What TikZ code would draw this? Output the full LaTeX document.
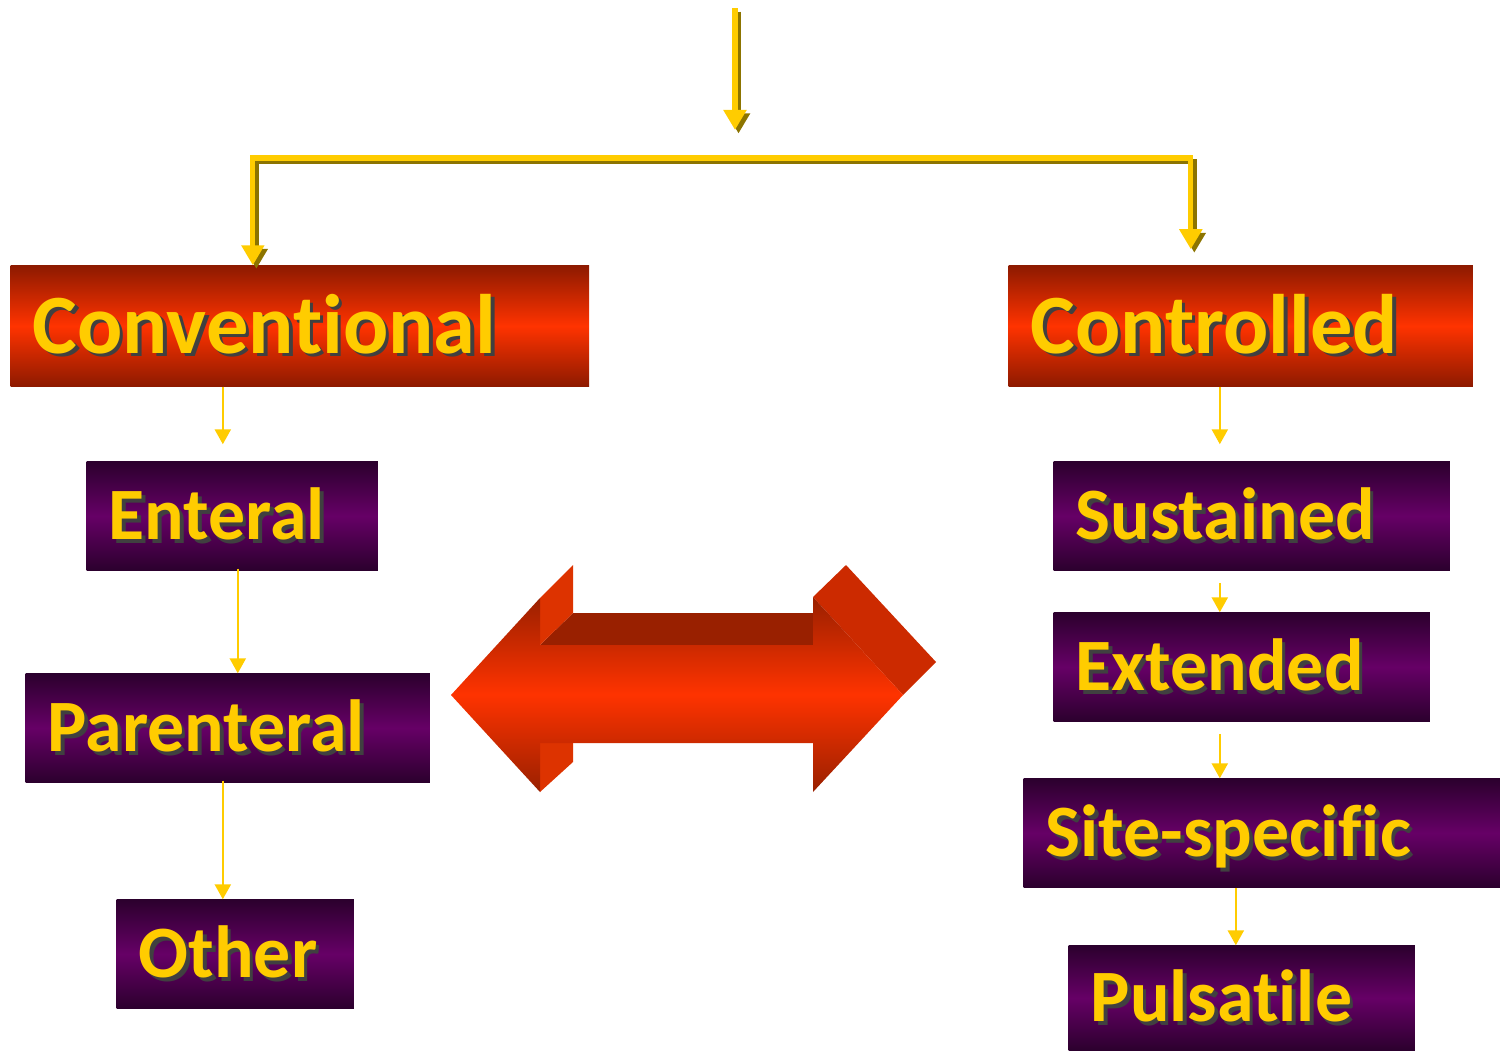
\documentclass[tikz,border=0pt]{standalone}
\usepackage{fontspec}
\setmainfont{Carlito}[Ligatures=NoCommon]
\usetikzlibrary{arrows.meta,positioning}

\definecolor{gold}{HTML}{FFCC00}
\definecolor{goldshade}{HTML}{8C7400}
\definecolor{redtop}{HTML}{8E1A00}
\definecolor{redmid}{HTML}{FF3300}
\definecolor{purtop}{HTML}{2C002E}
\definecolor{purmid}{HTML}{660066}
\definecolor{arrowdark}{HTML}{992000}
\definecolor{arrowside}{HTML}{CC2A00}
\definecolor{arrowflap}{HTML}{DD3300}

% yellow text with a dark drop shadow
\newcommand{\shtxt}[1]{\makebox[0pt][l]{\hspace{0.035cm}\raisebox{-0.035cm}{\color{black!75}#1}}#1}

\begin{document}
\begin{tikzpicture}[x=0.01cm,y=-0.01cm,
  box/.style={rectangle, anchor=west, align=left, inner xsep=0.22cm, inner ysep=0pt,
    text=gold, text depth=0pt, font=\bfseries},
  redbox/.style={box, shading=axis, top color=redtop, bottom color=redtop, middle color=redmid,
    minimum height=1.2cm, text height=15.5pt, font=\bfseries\fontsize{24}{28}\selectfont},
  purbox/.style={box, shading=axis, top color=purtop, bottom color=purtop, middle color=purmid,
    minimum height=1.08cm, text height=13.5pt, font=\bfseries\fontsize{21}{25}\selectfont},
  link/.style={-{Triangle[width=0.16cm,length=0.15cm]}, gold, line width=0.7pt},
  bigline/.style={gold, line width=1.5pt, line join=miter},
  bigtip/.style={-{Triangle[width=0.22cm,length=0.2cm]}},
  shadowed/.style={goldshade, transform canvas={xshift=0.035cm,yshift=-0.035cm}}]
  \useasboundingbox (0,0) rectangle (1500,1051);

  % boxes
  \node[redbox, text width=5.34cm] (conv) at (10,326) {\shtxt{Conventional}};
  \node[redbox, text width=4.20cm] (ctrl) at (1008,326) {\shtxt{Controlled}};
  \node[purbox, text width=2.47cm] (ent) at (86,516) {\shtxt{Enteral}};
  \node[purbox, text width=3.60cm] (par) at (25,728) {\shtxt{Parenteral}};
  \node[purbox, text width=1.93cm] (oth) at (116,954) {\shtxt{Other}};
  \node[purbox, text width=3.52cm] (sus) at (1053,516) {\shtxt{Sustained}};
  \node[purbox, text width=3.32cm] (ext) at (1053,667) {\shtxt{Extended}};
  \node[purbox, text width=4.33cm] (site) at (1023,833) {\shtxt{Site-specific}};
  \node[purbox, text width=3.02cm, minimum height=1.04cm] (puls) at (1068,998) {\shtxt{Pulsatile}};

  % top arrow and bracket
  \coordinate (src) at (735,8);
  \coordinate (hub) at (735,158);
  \coordinate (b1) at ([xshift=-0.47cm]conv.north);
  \coordinate (b2) at ([xshift=-0.50cm]ctrl.north);
  \draw[bigline, bigtip, shadowed, shorten >=0.28cm] (src) -- (hub);
  \draw[bigline, bigtip, shorten >=0.28cm] (src) -- (hub);
  \draw[bigline, shadowed, {Triangle[width=0.22cm,length=0.2cm]}-{Triangle[width=0.22cm,length=0.2cm]}, shorten >=0.16cm] (b1) |- (hub) -| (b2);
  \draw[bigline, {Triangle[width=0.22cm,length=0.2cm]}-{Triangle[width=0.22cm,length=0.2cm]}, shorten >=0.16cm] (b1) |- (hub) -| (b2);

  % left column
  \coordinate (l1) at ([xshift=-0.77cm]conv.south);
  \coordinate (l2) at ([xshift=0.055cm,yshift=0.02cm]ent.south);
  \coordinate (l3) at ([xshift=-0.05cm,yshift=0.02cm]par.south);
  \draw[link, shorten >=0.17cm] (l1) -- (l1 |- ent.north);
  \draw[link] (l2) -- (l2 |- par.north);
  \draw[link] (l3) -- (l3 |- oth.north);

  % right column
  \coordinate (r1) at ([xshift=-0.21cm]ctrl.south);
  \coordinate (r2) at ([xshift=-0.32cm]sus.south);
  \coordinate (r3) at ([xshift=-0.22cm]ext.south);
  \coordinate (r4) at ([xshift=-0.265cm]site.south);
  \draw[link, shorten >=0.17cm] (r1) -- (r1 |- sus.north);
  \draw[link, shorten <=0.12cm] (r2) -- (r2 |- ext.north);
  \draw[link, shorten <=0.12cm] (r3) -- (r3 |- site.north);
  \draw[link] (r4) -- (r4 |- puls.north);

  % big double arrow
  \fill[arrowside] (813,597) -- (846,565) -- (936,662) -- (903,695) -- cycle;
  \fill[arrowdark] (540,645) -- (573,613) -- (813,613) -- (813,645) -- cycle;
  \fill[arrowflap] (540,598) -- (573,565) -- (573,613) -- (540,645) -- cycle;
  \fill[arrowflap] (540,743) -- (573,743) -- (573,762) -- (540,792) -- cycle;
  \shade[top color=arrowdark, bottom color=arrowdark, middle color=redmid]
    (451,695) -- (540,598) -- (540,645) -- (813,645) -- (813,597) -- (903,695)
    -- (813,792) -- (813,743) -- (540,743) -- (540,792) -- cycle;
\end{tikzpicture}
\end{document}
